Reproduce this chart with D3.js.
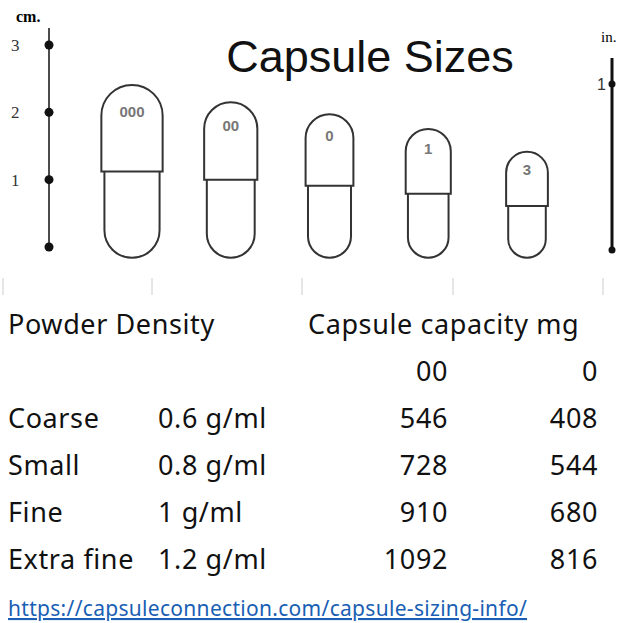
<!DOCTYPE html>
<html><head><meta charset="utf-8">
<script src="https://cdn.jsdelivr.net/npm/d3@7"></script>
<style>body{margin:0;background:#fff}</style></head>
<body><svg id="c" width="640" height="623"></svg>
<script>
const sizes = ['000', '00', '0', '1', '3'];
const lengthCm = [2.59, 2.33, 2.15, 1.93, 1.59];
const bodyCm = [1.28, 1.16, 1.07, 0.95, 0.77];
const widthCm = [0.91, 0.79, 0.71, 0.67, 0.62];
const cmTicks = [0, 1, 2, 3];
const inTicks = [0, 1];

const headers = ['Powder Density', 'Capsule capacity mg'];
const colSizes = ['00', '0'];
const powders = ['Coarse', 'Small', 'Fine', 'Extra fine'];
const densities = ['0.6 g/ml', '0.8 g/ml', '1 g/ml', '1.2 g/ml'];
const cap00 = [546, 728, 910, 1092];
const cap0 = [408, 544, 680, 816];
const source = 'https://capsuleconnection.com/capsule-sizing-info/';

const svg = d3.select('#c');
const y = d3.scaleLinear().domain([0, 3]).range([247, 45]);
const px = d => y(0) - y(d);          // cm -> px length
const x = d3.scalePoint().domain(sizes).range([132, 527]);
const base = -0.16;

// cm ruler
svg.append('line').attr('x1', 49).attr('x2', 49).attr('y1', 28).attr('y2', y(0))
  .attr('stroke', '#111').attr('stroke-width', 1.5);
svg.selectAll('.cmdot').data(cmTicks).join('circle')
  .attr('cx', 49).attr('cy', d => y(d)).attr('r', 4.5).attr('fill', '#111');
svg.selectAll('.cmlab').data(cmTicks.filter(d => d > 0)).join('text')
  .attr('x', 11).attr('y', d => y(d) + 6).text(d => d)
  .attr('font-family', 'Liberation Serif').attr('font-size', 17).attr('fill', '#333');
svg.append('text').attr('x', 16).attr('y', 22).text('cm.')
  .attr('font-family', 'Liberation Serif').attr('font-weight', 'bold').attr('font-size', 16);

// inch ruler
const yi = d3.scaleLinear().domain([0, 1]).range([250, 84]);
svg.append('line').attr('x1', 612).attr('x2', 612).attr('y1', 58).attr('y2', yi(0))
  .attr('stroke', '#111').attr('stroke-width', 3);
svg.selectAll('.indot').data(inTicks).join('circle')
  .attr('cx', 612).attr('cy', d => yi(d)).attr('r', 3.5).attr('fill', '#111');
svg.append('text').attr('x', 597).attr('y', yi(1) + 6).text('1')
  .attr('font-family', 'Liberation Sans').attr('font-size', 16).attr('fill', '#333');
svg.append('text').attr('x', 601).attr('y', 42).text('in.')
  .attr('font-family', 'Liberation Serif').attr('font-size', 15);

// title
svg.append('text').attr('x', 370).attr('y', 72).attr('text-anchor', 'middle')
  .text('Capsule Sizes').attr('font-family', 'Liberation Sans').attr('font-size', 45).attr('fill', '#111');

// capsules
const caps = sizes.map((s, i) => ({s, len: lengthCm[i], body: bodyCm[i], w: widthCm[i]}));
const g = svg.selectAll('.cap').data(caps).join('g')
  .attr('fill', 'none').attr('stroke', '#333').attr('stroke-width', 2);
g.append('path').attr('d', d => {
  const cx = x(d.s), w = px(d.w), r = w / 2;
  const top = y(base + d.len), join = y(base + d.body);
  const n = top + r * 1.05;
  return `M${cx - r},${join}V${n}A${r},${r} 0 0 1 ${cx + r},${n}V${join}Z`;
});
g.append('path').attr('d', d => {
  const cx = x(d.s), r = px(d.w) / 2 * 0.9;
  const join = y(base + d.body), bot = y(base);
  return `M${cx - r},${join}V${bot - r}A${r},${r} 0 0 0 ${cx + r},${bot - r}V${join}`;
});
svg.selectAll('.caplab').data(caps).join('text')
  .attr('x', d => x(d.s)).attr('y', d => y(base + d.len) + px(d.w) * 0.45 + 6)
  .attr('text-anchor', 'middle').text(d => d.s)
  .attr('font-family', 'Liberation Sans').attr('font-weight', 'bold').attr('font-size', 15).attr('fill', '#777');

// faint separators
svg.selectAll('.sep').data([3, 152, 302, 453, 603]).join('line')
  .attr('x1', d => d).attr('x2', d => d).attr('y1', 278).attr('y2', 295)
  .attr('stroke', '#ccc');

// table
const font = 'Noto Sans';
const T = (xx, yy, t, anchor = 'start') => svg.append('text').attr('x', xx).attr('y', yy)
  .attr('text-anchor', anchor).text(t).attr('font-family', font).attr('font-size', 27)
  .attr('letter-spacing', 0.6).attr('fill', '#111');
T(8, 334, headers[0]);
T(308, 334, headers[1]);
T(448, 381, colSizes[0], 'end');
T(598, 381, colSizes[1], 'end');
powders.forEach((p, i) => {
  const yy = 428 + i * 47;
  T(8, yy, p);
  T(158, yy, densities[i]);
  T(448, yy, cap00[i], 'end');
  T(598, yy, cap0[i], 'end');
});
svg.append('text').attr('x', 8).attr('y', 616).text(source)
  .attr('font-family', font).attr('font-size', 21).attr('letter-spacing', 0.3).attr('fill', '#1a5fb4')
  .attr('text-decoration', 'underline');
</script></body></html>
